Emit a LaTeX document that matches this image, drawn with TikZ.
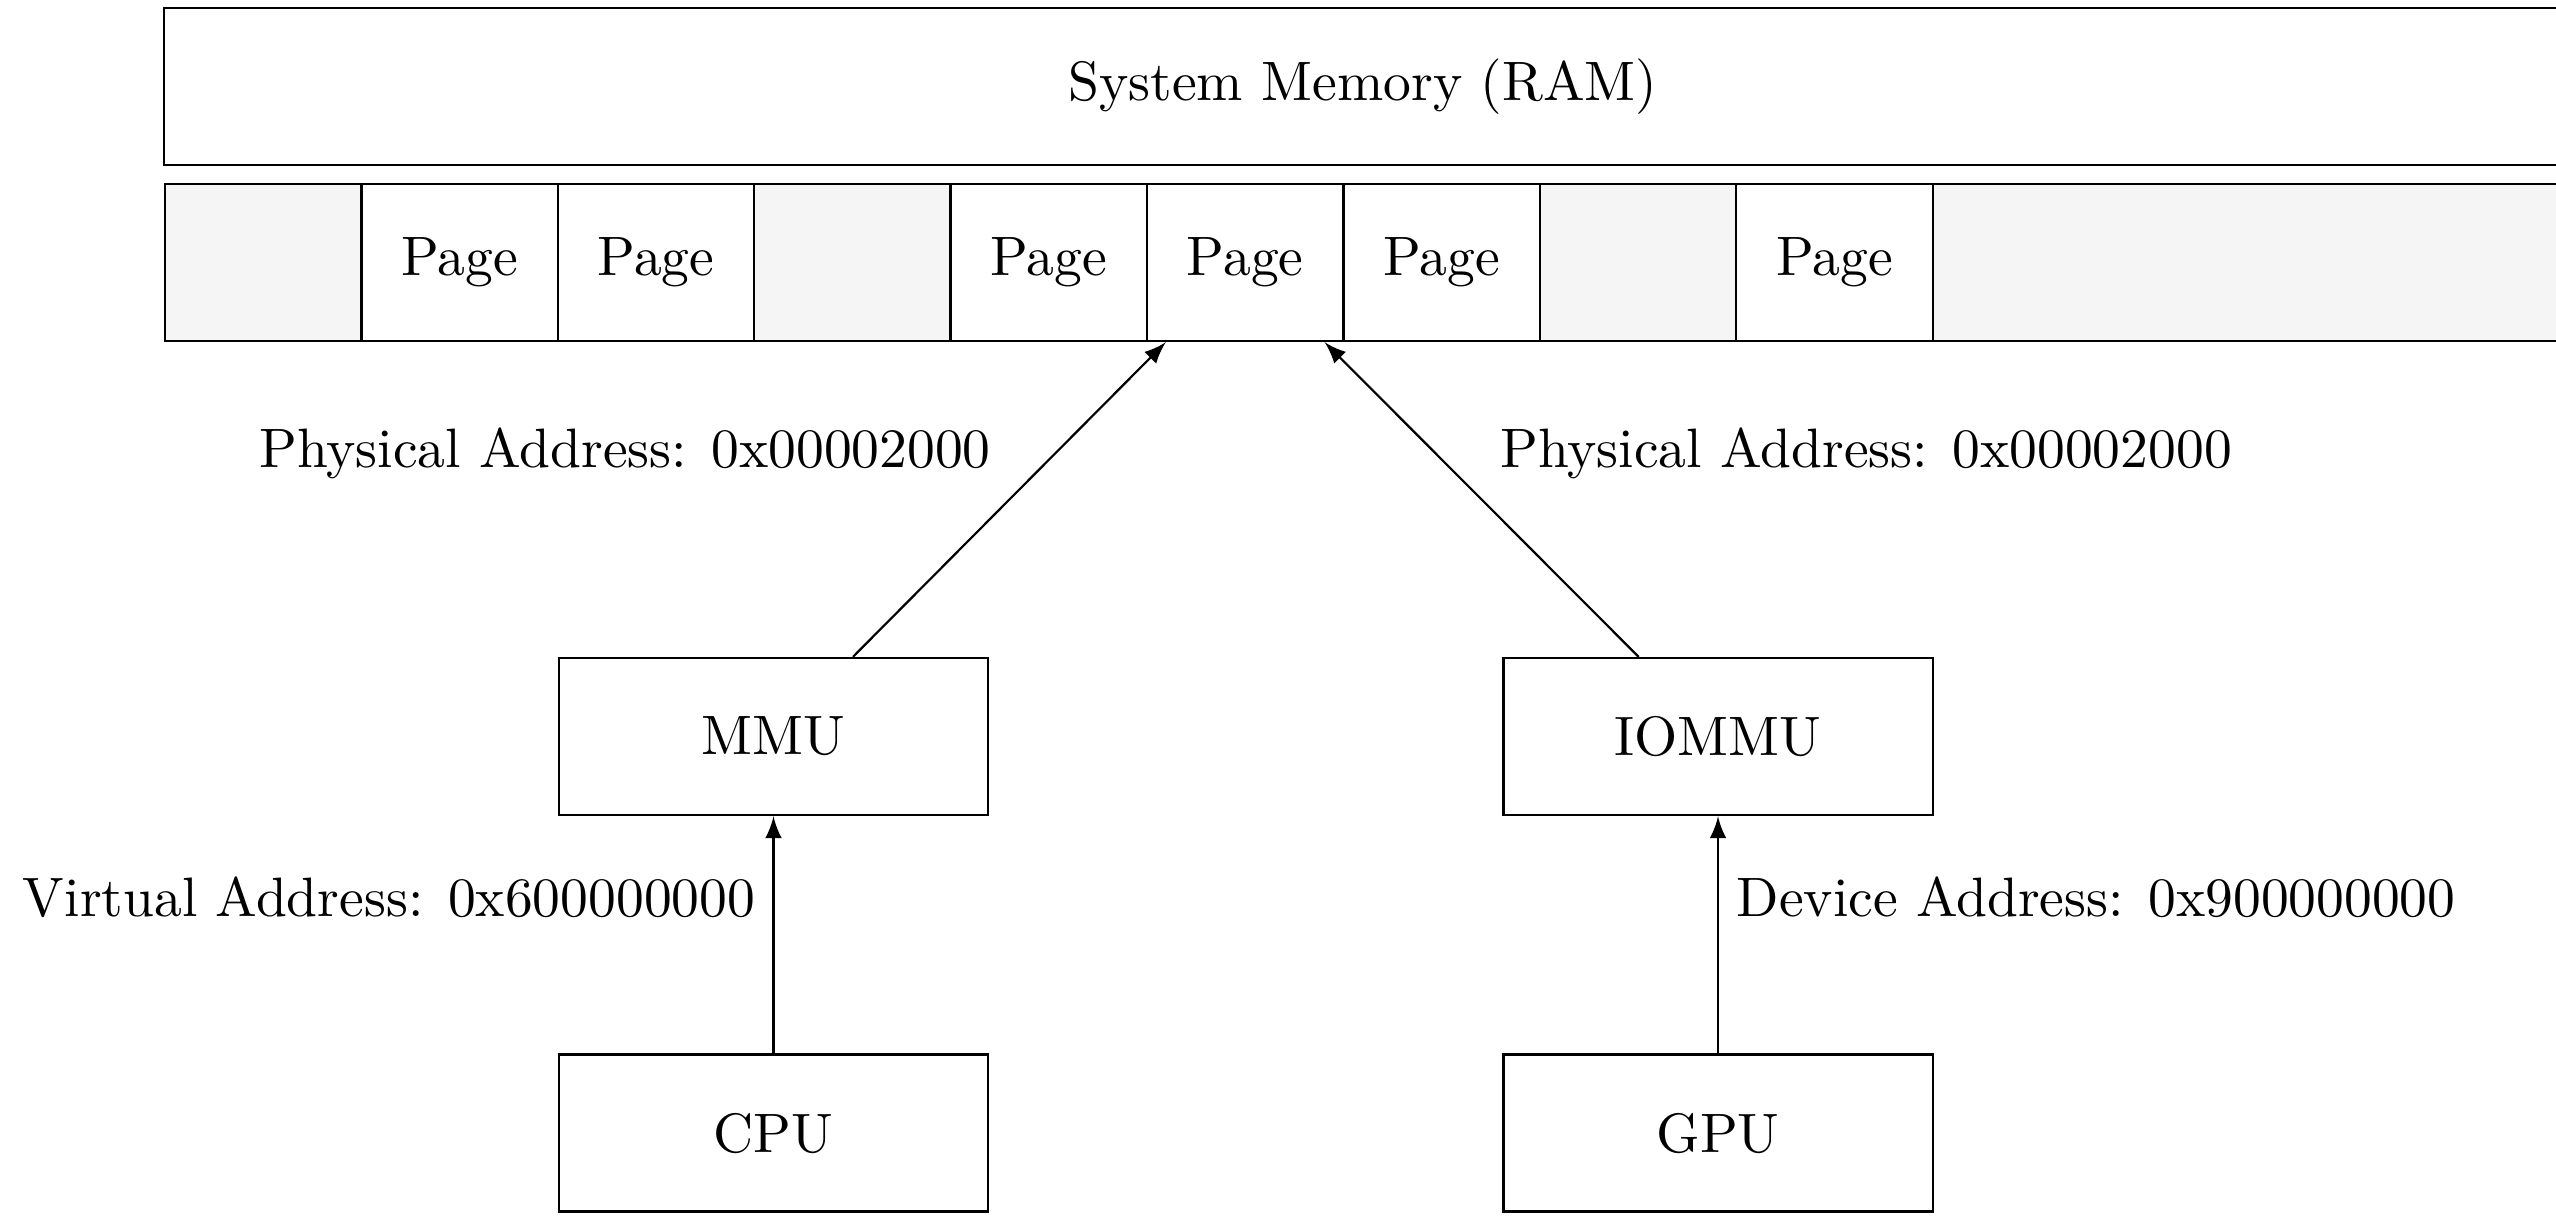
\documentclass[tikz,border=0pt]{standalone}
\usetikzlibrary{arrows}
\begin{document}
\begin{tikzpicture}[x=0.0064267cm,y=-0.0064267cm,
  every node/.style={font=\fontsize{10.15pt}{12pt}\selectfont},
  box/.style={draw, minimum width=2.757cm, minimum height=1.009cm, inner sep=0pt},
  cell/.style={draw, minimum width=1.262cm, minimum height=1.009cm, inner sep=0pt},
  freecell/.style={cell, fill=black!4},
  lbl/.style={inner sep=0pt},
  arr/.style={-latex}]
\path[use as bounding box] (0,0) rectangle (2556,1215);
\clip (0,0) rectangle (2556,1215);
% RAM
\node[draw, minimum width=15.40cm, minimum height=1.009cm, inner sep=0pt] (ram) at (1363,86.5) {System Memory (RAM)};
% page row
\node[freecell] (c0) at (263.2,262.5) {};
\node[cell] (c1) at (459.6,262.5) {Page};
\node[cell] (c2) at (656.0,262.5) {Page};
\node[freecell] (c3) at (852.4,262.5) {};
\node[cell] (c4) at (1048.8,262.5) {Page};
\node[cell] (c5) at (1245.2,262.5) {Page};
\node[cell] (c6) at (1441.6,262.5) {Page};
\node[freecell] (c7) at (1638.0,262.5) {};
\node[cell] (c8) at (1834.4,262.5) {Page};
\node[freecell, minimum width=4.036cm] (c9) at (2247,262.5) {};
% units
\node[box] (mmu) at (773.5,736.5) {MMU};
\node[box] (iommu) at (1718,736.5) {IOMMU};
\node[box] (cpu) at (773.5,1133) {CPU};
\node[box] (gpu) at (1718,1133) {GPU};
% connectors
\draw[arr] (cpu) -- (mmu);
\draw[arr] (gpu) -- (iommu);
\draw[arr] ([xshift=0.51cm]mmu.north) -- ([xshift=-0.51cm]c5.south);
\draw[arr] ([xshift=-0.51cm]iommu.north) -- ([xshift=0.51cm]c5.south);
% labels
\node[lbl] (pa1) at (625,453) {Physical Address: 0x00002000};
\node[lbl] (pa2) at (1866,453) {Physical Address: 0x00002000};
\node[lbl] (va) at (389,897) {Virtual Address: 0x600000000};
\node[lbl] (da) at (2096,897) {Device Address: 0x900000000};
\end{tikzpicture}
\end{document}
